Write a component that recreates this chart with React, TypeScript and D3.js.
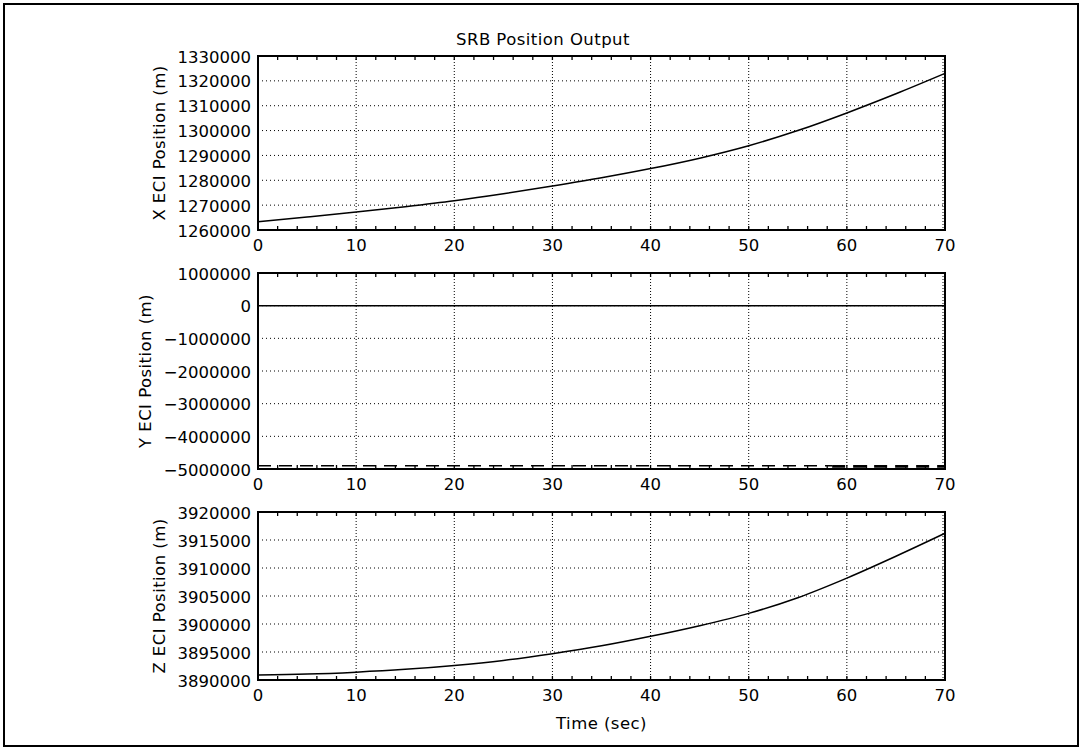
import React from "react";
import * as d3 from "d3";

// ---- data ----
const timeTicks = [0, 10, 20, 30, 40, 50, 60, 70];
const minorTimeTicks = d3.range(0, 70.001, 2);

const xTime = [0, 5, 10, 15, 20, 25, 30, 35, 40, 45, 50, 55, 60, 65, 70];
const xPos = [1263300, 1265200, 1267200, 1269400, 1271800, 1274600, 1277700, 1281000, 1284700, 1288900, 1293900, 1300000, 1307100, 1314800, 1323000];
const xTicks = [1260000, 1270000, 1280000, 1290000, 1300000, 1310000, 1320000, 1330000];

const yZeroTime = [0, 70];
const yZero = [0, 0];
const yDashTime = [0, 58.5];
const yDash = [-4900000, -4900000];
const yDashThickTime = [58.5, 70];
const yDashThick = [-4920000, -4920000];
const yTicks = [-5000000, -4000000, -3000000, -2000000, -1000000, 0, 1000000];

const zTime = [0, 5, 10, 15, 20, 25, 30, 35, 40, 45, 50, 55, 60, 65, 70];
const zPos = [3890900, 3891050, 3891400, 3891900, 3892600, 3893500, 3894700, 3896100, 3897800, 3899700, 3901900, 3904700, 3908200, 3912100, 3916200];
const zTicks = [3890000, 3895000, 3900000, 3905000, 3910000, 3915000, 3920000];

const titleText = "SRB Position Output";
const xAxisTitle = "Time (sec)";
const yTitles = ["X ECI Position (m)", "Y ECI Position (m)", "Z ECI Position (m)"];

const W = 1086;
const H = 750;
const FS = 16.5;
const FONT = "'DejaVu Sans', sans-serif";
const LS = 0.45;
const L = 258;
const R = 945;

const fmt = d3.format("d");

function textWidth(s: string) {
  let w = 0;
  for (const c of s) w += c === "\u2212" ? 0.838 : 0.636;
  return w * FS;
}

type Series = { t: number[]; v: number[]; width: number; dash?: string };

function Panel({ top, bottom, ticks, series, ytitle }: { top: number; bottom: number; ticks: number[]; series: Series[]; ytitle: string }) {
  const x = d3.scaleLinear().domain([0, 70]).range([L, R]);
  const y = d3.scaleLinear().domain([ticks[0], ticks[ticks.length - 1]]).range([bottom, top]);
  const labels = ticks.map((t) => fmt(t));
  const maxW = d3.max(labels, (s) => textWidth(s)) as number;
  const titleX = 250 - maxW - 8 - 9;
  const titleY = (top + bottom) / 2;
  return (
    <g>
      {ticks.slice(1, -1).map((t) => (
        <line key={"h" + t} x1={L} x2={R} y1={y(t)} y2={y(t)} stroke="#000" strokeWidth={1} strokeDasharray="1,3" />
      ))}
      {timeTicks.slice(1).map((t) => (
        <line key={"v" + t} x1={x(t) - (t === 70 ? 2 : 0)} x2={x(t) - (t === 70 ? 2 : 0)} y1={top} y2={bottom} stroke="#000" strokeWidth={1} strokeDasharray="1,2" />
      ))}
      {minorTimeTicks.map((t) => (
        <g key={"m" + t}>
          <line x1={x(t)} x2={x(t)} y1={top} y2={top + 4} stroke="#000" strokeWidth={1.3} />
          <line x1={x(t)} x2={x(t)} y1={bottom} y2={bottom - 4} stroke="#000" strokeWidth={1.3} />
        </g>
      ))}
      {series.map((s, k) => {
        const g = d3
          .line<number>()
          .x((_, i) => x(s.t[i]))
          .y((d) => y(d))
          .curve(d3.curveMonotoneX);
        return <path key={k} d={g(s.v) || ""} fill="none" stroke="#000" strokeWidth={s.width} strokeDasharray={s.dash} />;
      })}
      <rect x={L} y={top} width={R - L} height={bottom - top} fill="none" stroke="#000" strokeWidth={2} />
      {ticks.map((t, i) => (
        <text key={"yl" + t} x={251} y={y(t) + 1} textAnchor="end" dominantBaseline="central" fontSize={FS} fontFamily={FONT}>
          {labels[i]}
        </text>
      ))}
      {timeTicks.map((t) => (
        <text key={"xl" + t} x={x(t)} y={bottom + 21} textAnchor="middle" fontSize={FS} fontFamily={FONT}>
          {t}
        </text>
      ))}
      <text transform={`translate(${titleX},${titleY}) rotate(-90)`} textAnchor="middle" dominantBaseline="central" fontSize={FS} fontFamily={FONT} letterSpacing={LS}>
        {ytitle}
      </text>
    </g>
  );
}

export default function App() {
  return (
    <svg width={W} height={H} style={{ position: "absolute", left: 0, top: 0, background: "#fff" }}>
      <rect x={0} y={0} width={W} height={H} fill="#fff" />
      <rect x={4} y={4} width={1074} height={742} fill="none" stroke="#000" strokeWidth={2} />
      <text x={W / 2} y={45} textAnchor="middle" fontSize={FS} fontFamily={FONT} letterSpacing={LS}>
        {titleText}
      </text>
      <Panel top={56} bottom={230} ticks={xTicks} ytitle={yTitles[0]} series={[{ t: xTime, v: xPos, width: 1.5 }]} />
      <Panel
        top={273}
        bottom={469}
        ticks={yTicks}
        ytitle={yTitles[1]}
        series={[
          { t: yZeroTime, v: yZero, width: 1.5 },
          { t: yDashTime, v: yDash, width: 1.4, dash: "13,8" },
          { t: yDashThickTime, v: yDashThick, width: 2.6, dash: "13,8" },
        ]}
      />
      <Panel top={512} bottom={680} ticks={zTicks} ytitle={yTitles[2]} series={[{ t: zTime, v: zPos, width: 1.5 }]} />
      <text x={(L + R) / 2} y={729} textAnchor="middle" fontSize={FS} fontFamily={FONT} letterSpacing={LS}>
        {xAxisTitle}
      </text>
    </svg>
  );
}
